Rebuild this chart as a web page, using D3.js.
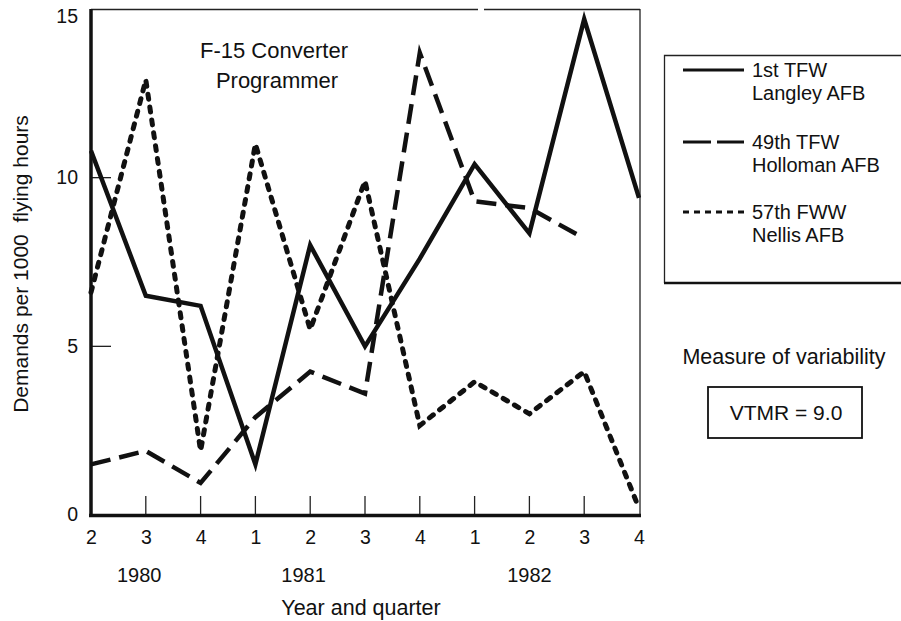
<!DOCTYPE html>
<html><head><meta charset="utf-8">
<script src="https://cdn.jsdelivr.net/npm/d3@7"></script>
<style>body{margin:0;background:#fff}svg{display:block}text{font-family:"Liberation Sans",Arial,sans-serif;fill:#111}</style>
</head><body><svg id="c" width="901" height="621"></svg>
<script>
const quarters = ["2","3","4","1","2","3","4","1","2","3","4"];
const years = [{label:"1980", idx:0.88},{label:"1981", idx:3.88},{label:"1982", idx:8}];
const langley  = [10.8, 6.5, 6.2, 1.5, 8.0, 5.0, 7.6, 10.4, 8.35, 14.7, 9.4];
const holloman = [1.5, 1.9, 0.95, 2.9, 4.25, 3.6, 13.7, 9.3, 9.1, 8.2, null];
const nellis   = [6.6, 12.9, 1.9, 11.0, 5.5, 9.9, 2.65, 3.95, 3.0, 4.25, 0.2];
const yTicks = [0, 5, 10, 15];
const seriesNames = [["1st TFW","Langley AFB"],["49th TFW","Holloman AFB"],["57th FWW","Nellis AFB"]];
const dashes = [null, "20 9", "5 8"];

const FF = '"Liberation Sans",Arial,sans-serif';
const svg = d3.select("#c");
const x = d3.scaleLinear().domain([0, quarters.length-1]).range([91, 639]);
const y = d3.scaleLinear().domain([0, 15]).range([515, 9]);

// frame: top & right thin
svg.append("line").attr("x1",91).attr("x2",478).attr("y1",9.5).attr("y2",9.5).attr("stroke","#222").attr("stroke-width",1.3);
svg.append("line").attr("x1",484).attr("x2",640).attr("y1",9.5).attr("y2",9.5).attr("stroke","#222").attr("stroke-width",1.3);
svg.append("line").attr("x1",640).attr("x2",640).attr("y1",9).attr("y2",515).attr("stroke","#222").attr("stroke-width",1.3);

// y axis
const yAxis = d3.axisLeft(y).tickValues(yTicks).tickSize(0).tickPadding(13);
const gy = svg.append("g").attr("transform","translate(91,0)").call(yAxis);
gy.select(".domain").remove();
gy.selectAll(".tick").attr("transform", d => `translate(0,${Math.max(y(d), 17)})`);
gy.selectAll("text").attr("font-size",19.5).style("font-family",FF).attr("fill","#111");
svg.selectAll(".ytk").data([5,10]).enter().append("line").attr("x1",91).attr("x2",111)
  .attr("y1",d=>y(d)).attr("y2",d=>y(d)).attr("stroke","#222").attr("stroke-width",1.3);

// x axis
const xAxis = d3.axisBottom(x).tickValues(d3.range(quarters.length)).tickFormat(i=>quarters[i]).tickSize(0).tickPadding(15);
const gx = svg.append("g").attr("transform","translate(0,515)").call(xAxis);
gx.select(".domain").remove();
gx.selectAll("text").attr("font-size",19.5).style("font-family",FF).attr("fill","#111");
svg.selectAll(".xtk").data(d3.range(1, quarters.length-1)).enter().append("line")
  .attr("x1",d=>x(d)).attr("x2",d=>x(d)).attr("y1",496).attr("y2",515).attr("stroke","#222").attr("stroke-width",1.3);

svg.append("line").attr("x1",91).attr("x2",91).attr("y1",9).attr("y2",517).attr("stroke","#111").attr("stroke-width",3.5);
svg.append("line").attr("x1",89).attr("x2",641).attr("y1",515.5).attr("y2",515.5).attr("stroke","#111").attr("stroke-width",3.5);

svg.selectAll(".yr").data(years).enter().append("text").attr("x",d=>x(d.idx)).attr("y",582)
  .attr("text-anchor","middle").attr("font-size",20).text(d=>d.label);
svg.append("text").attr("x",361).attr("y",615).attr("text-anchor","middle").attr("font-size",21.5).text("Year and quarter");
svg.append("text").attr("transform","translate(28,264) rotate(-90)").attr("text-anchor","middle").attr("font-size",21)
  .attr("xml:space","preserve").style("white-space","pre").text("Demands per 1000  flying hours");

// title
svg.append("text").attr("x",274).attr("y",58).attr("text-anchor","middle").attr("font-size",22).text("F-15 Converter");
svg.append("text").attr("x",277).attr("y",88).attr("text-anchor","middle").attr("font-size",22).text("Programmer");

// lines
const line = d3.line().defined(d=>d!=null).x((d,i)=>x(i)).y(d=>y(d));
[langley, holloman, nellis].forEach((s,k)=>{
  svg.append("path").attr("d", line(s)).attr("fill","none").attr("stroke","#111")
    .attr("stroke-width", k==0?4.5:(k==2?5:4.5)).attr("stroke-dasharray", dashes[k]).attr("stroke-linejoin","miter")
    .attr("stroke-linecap", k==2?"round":"butt");
});

// legend
svg.append("path").attr("d","M905,55.5 H664.5 V283").attr("fill","none").attr("stroke","#222").attr("stroke-width",1.3);
svg.append("line").attr("x1",664).attr("x2",905).attr("y1",283).attr("y2",283).attr("stroke","#111").attr("stroke-width",2.5);
const ly = [70, 142, 212];
seriesNames.forEach((n,k)=>{
  svg.append("line").attr("x1",683).attr("x2",744).attr("y1",ly[k]).attr("y2",ly[k]).attr("stroke","#111")
    .attr("stroke-width",3).attr("stroke-dasharray", k==1?"28 6":(k==2?"6 5":null));
  svg.append("text").attr("x",752).attr("y",ly[k]+7).attr("font-size",20).text(n[0]);
  svg.append("text").attr("x",752).attr("y",ly[k]+30).attr("font-size",20).text(n[1]);
});

svg.append("text").attr("x",784).attr("y",364).attr("text-anchor","middle").attr("font-size",21.5).text("Measure of variability");
svg.append("rect").attr("x",708).attr("y",387).attr("width",154).attr("height",51).attr("fill","none").attr("stroke","#111").attr("stroke-width",1.8);
svg.append("text").attr("x",786).attr("y",420).attr("text-anchor","middle").attr("font-size",21).text("VTMR = 9.0");
</script></body></html>
